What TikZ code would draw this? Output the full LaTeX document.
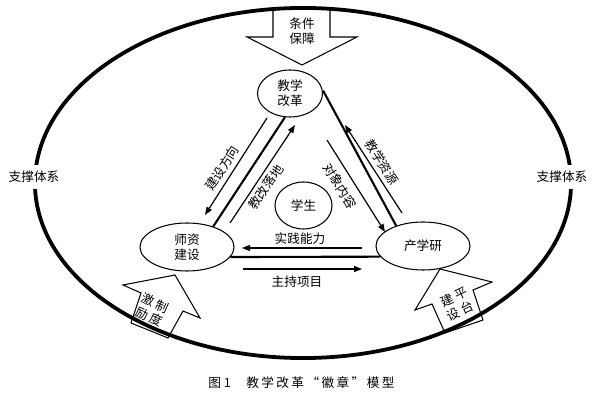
\documentclass[tikz,border=0pt]{standalone}
\usepackage{fontspec}
\setmainfont{Noto Sans CJK SC}
\newfontfamily\capfont[LetterSpace=19]{Noto Sans CJK SC}
\usetikzlibrary{shapes.geometric,arrows.meta}
\newcommand\lblfont{\fontsize{9pt}{10.6pt}\selectfont}
\tikzset{
  ell/.style={ellipse, draw, line width=0.75pt, inner sep=0pt, align=center, font=\lblfont},
  mainline/.style={line width=1.5pt},
  thinarr/.style={line width=0.85pt, -{Triangle[length=2mm,width=1.5mm]}},
  lbl/.style={font=\lblfont, inner sep=1pt, align=center},
  blockarr/.style={draw, fill=white, line width=0.75pt, line join=miter},
  sidelbl/.style={font=\lblfont, fill=white, inner xsep=1pt, inner ysep=0.15cm},
}
\begin{document}
\begin{tikzpicture}[x=0.025cm,y=-0.025cm]
\useasboundingbox (0,0) rectangle (600,405);
\fill[white] (0,0) rectangle (600,405);

% block arrows
\draw[blockarr] (273,9) -- (273,37) -- (247,37) -- (302,65) -- (357,37) -- (330,37) -- (330,9) -- cycle;
\draw[blockarr] (175,275) -- (123,285) -- (141,293) -- (131,323) -- (168,338) -- (183,311) -- (200,318) -- cycle;
\draw[blockarr] (440,269) -- (415,310) -- (432,304) -- (445,333) -- (483,320) -- (473,290) -- (492,282) -- cycle;

% outer ellipse
\draw[line width=2.7pt] (303,183) ellipse [x radius=6.7cm, y radius=4.375cm];

% block arrow texts
\node[lbl] (tj) at (302,31) {条件\\保障};
\node[lbl, rotate=-24] (zd) at (152,310) {激\hspace{2pt}制\\励\hspace{2pt}度};
\node[lbl, rotate=25] (pt) at (457,304) {建\hspace{2pt}平\\设\hspace{2pt}台};

% side labels
\node[sidelbl] (zl) at (34,177) {支撑体系};
\node[sidelbl] (zr) at (562,177) {支撑体系};

% main nodes
\node[ell, minimum width=1.625cm, minimum height=1.175cm] (jx) at (290,93.5) {教学\\改革};
\node[ell, minimum width=2.35cm, minimum height=1.2cm] (sz) at (187,247) {师资\\建设};
\node[ell, minimum width=2.35cm, minimum height=1.2cm] (cxy) at (423,246) {产学研};
\node[ell, minimum width=1.425cm, minimum height=1.175cm] (xs) at (303.5,205.5) {学生};

% thick triangle edges
\draw[mainline] (jx.-102) -- (sz.38);
\draw[mainline, shorten <=0.3cm] (jx.26.5) -- (cxy.143);
\draw[mainline] (sz.-13) -- (cxy.-166);

% thin arrows
\coordinate (a1) at (267,118); \coordinate (a2) at (205,215);
\coordinate (b1) at (230,223); \coordinate (b2) at (295,125);
\coordinate (c1) at (327,140); \coordinate (c2) at (385,232);
\coordinate (d1) at (402,213); \coordinate (d2) at (345,125);
\coordinate (e1) at (362,248); \coordinate (e2) at (242,248);
\coordinate (f1) at (243,269); \coordinate (f2) at (362,269);
\draw[thinarr] (a1) -- (a2);
\draw[thinarr] (b1) -- (b2);
\draw[thinarr] (c1) -- (c2);
\draw[thinarr] (d1) -- (d2);
\draw[thinarr] (e1) -- (e2);
\draw[thinarr] (f1) -- (f2);

% arrow labels
\node[lbl, rotate=57] (la) at (222,168) {建设方向};
\node[lbl, rotate=56] (lb) at (266,187) {教改落地};
\node[lbl, rotate=-58] (lc) at (340,186) {对象内容};
\node[lbl, rotate=-57] (ld) at (382,162) {教学资源};
\node[lbl] (le) at (300,239) {实践能力};
\node[lbl] (lf) at (297,282) {主持项目};

% caption
\node[inner sep=0pt, anchor=west, font=\lblfont] (cap1) at (208,383) {图 1};
\node[inner sep=0pt, anchor=west, font=\lblfont] (cap2) at (246,383) {\capfont 教学改革“徽章”模型};
\end{tikzpicture}
\end{document}
